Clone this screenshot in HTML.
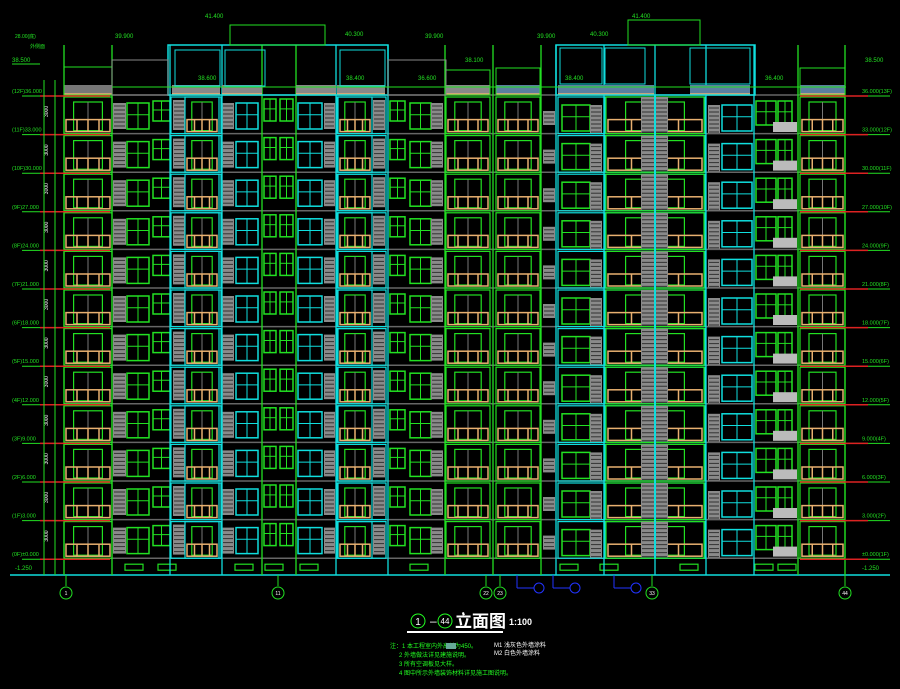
<!DOCTYPE html>
<html><head><meta charset="utf-8"><style>
html,body{margin:0;padding:0;background:#000;width:900px;height:689px;overflow:hidden}
svg{display:block}
text{font-family:"Liberation Sans","Noto Sans CJK SC",sans-serif}
</style></head><body>
<svg id="s" width="900" height="689" viewBox="0 0 900 689" xmlns="http://www.w3.org/2000/svg">
<rect width="900" height="689" fill="#000"/>
<g id="g" fill="none" stroke-width="1"></g>
<!-- title -->
<circle cx="418" cy="621" r="7" stroke="#2f2" fill="none"/><text x="418" y="625" font-size="10" fill="#fff" text-anchor="middle">1</text>
<text x="430" y="625" font-size="12" fill="#fff">–</text>
<circle cx="445" cy="621" r="7" stroke="#2f2" fill="none"/><text x="445" y="624" font-size="8" fill="#fff" text-anchor="middle">44</text>
<text x="455" y="627" font-size="17" font-weight="bold" fill="#fff">立面图</text>
<text x="509" y="625" font-size="9" font-weight="bold" fill="#fff">1:100</text>
<line x1="407" y1="632" x2="503" y2="632" stroke="#fff" stroke-width="2"/>
<g font-size="6" fill="#2f2">
<text x="390" y="648">注：1  本工程室内外高差为450。</text>
<rect x="446" y="643" width="10" height="6" fill="#6a9" stroke="none"/>
<text x="399" y="657">2  外墙做法详见建施说明。</text>
<text x="399" y="666">3  所有空调板见大样。</text>
<text x="399" y="675">4  图中所示外墙装饰材料详见施工图说明。</text>
</g>
<g font-size="6" fill="#fff">
<text x="494" y="647">M1  浅灰色外墙涂料</text>
<text x="494" y="655">M2  白色外墙涂料</text>
</g>
</svg>
<script>
var g=document.getElementById('g');var NS='http://www.w3.org/2000/svg';
function el(n,a){var e=document.createElementNS(NS,n);for(var k in a)e.setAttribute(k,a[k]);g.appendChild(e);return e}
function R(x,y,w,h,s,f,sw){return el('rect',{x:x,y:y,width:w,height:h,stroke:s||'none',fill:f||'none','stroke-width':sw||1})}
function L(x1,y1,x2,y2,s,sw){return el('line',{x1:x1,y1:y1,x2:x2,y2:y2,stroke:s,'stroke-width':sw||1})}
function T(x,y,t,c,fs,anc){var e=el('text',{x:x,y:y,fill:c||'#2f2','font-size':fs||6,'text-anchor':anc||'start'});e.textContent=t;return e}
var G='#22e022',C='#10dede',O='#e8b070',GR='#8a8a8a',LN='#666';
var top0=95,sp=38.6,N=12;
function lvl(i){return top0+sp*i}
function louvre(x,w,t,h){R(x,t,w,h,null,GR);for(var y=t+3;y<t+h;y+4)L(x+1,y,x+w-1,y,'#333'),y+=4;}
function win(x,w,t,c,h){R(x,t,w,h,c,null,1.5);L(x+w/2,t,x+w/2,t+h,c);L(x,t+h*0.45,x+w,t+h*0.45,c)}
function balc(x,w,t,c){R(x,t+2,w,sp-2,c,null,1.2);R(x+w*0.2,t+7,w*0.6,sp-10,G,null,1.2);L(x+w/2,t+7,x+w/2,t+sp-3,'#777');
 R(x+2,t+sp-14,w-4,12,O,null,1.5);for(var k=1;k<4;k++){var xx=x+2+(w-4)*k/4;L(xx,t+sp-14,xx,t+sp-2,O,1.5)}}
// floor lines
for(var i=0;i<=N;i++){var y=lvl(i);L(64,y,845,y,LN,1.5)}
for(var i=0;i<N;i++){var t=lvl(i);
 balc(64,48,t,G);
 louvre(113,13,t+8,26);win(127,22,t+8,G,26);win(153,17,t+6,G,20);
 R(171,t+2,50,sp-2,C,null,1.2);louvre(173,12,t+5,30);balc(185,34,t,C);
 louvre(222,12,t+8,26);win(236,22,t+8,C,26);
 win(264,12,t+4,G,22);win(280,13,t+4,G,22);
 win(298,24,t+8,C,26);louvre(324,11,t+8,26);
 R(337,t+2,49,sp-2,C,null,1.2);balc(338,34,t,C);louvre(373,12,t+5,30);
 win(390,15,t+6,G,20);win(410,21,t+8,G,26);louvre(431,12,t+8,26);
 balc(446,44,t,G);balc(496,44,t,G);
 louvre(543,12,t+16,14);
 R(558,t+2,46,sp-2,C,null,1.2);win(562,28,t+10,G,26);louvre(590,12,t+10,28);
 R(605,t+2,100,sp-2,C,null,1.2);balc(606,98,t,G);louvre(641,27,t+2,sp-3);L(655,t,655,t+sp,C,2);
 louvre(708,12,t+10,28);win(722,30,t+10,C,26);
 win(756,20,t+6,G,24);win(778,14,t+6,G,24);R(773,t+27,24,10,null,'#bbb');
 balc(800,45,t,G);
}
// base
var b=lvl(N);R(64,b,781,17,null,null);L(10,575,890,575,C,1.5);
[[125,12],[158,12],[235,12],[265,12],[300,12],[410,12],[560,12],[600,12],[680,12],[755,12],[778,12]].forEach(function(a){R(a[0],b+6,a[1]+6,6,G,null,1.2)});
// long verticals
[[64,G],[112,G],[170,C],[222,C],[262,G],[296,G],[336,C],[388,C],[445,G],[493,G],[541,G],[556,C],[604,C],[655,C],[706,C],[754,C],[798,G],[845,G]].forEach(function(a){L(a[0],45,a[0],575,a[1],1.3)});
// roof
[[64,48,'#777'],[172,48,'#888'],[222,40,'#888'],[296,40,'#888'],[337,48,'#888'],[446,44,'#888'],[496,44,'#5a7fa0'],[558,46,'#5a7fa0'],[604,50,'#5a7fa0'],[690,60,'#5a7fa0'],[800,45,'#5a7fa0']].forEach(function(a){R(a[0],85,a[1],9,null,a[2]);L(a[0],94,a[0]+a[1],94,O,1.5)});
R(64,67,48,28,G);R(446,70,44,25,G);R(496,68,44,27,G);R(800,68,45,27,G);
R(168,45,220,50,C,null,1.5);R(556,45,199,50,C,null,1.5);
R(230,25,95,20,G);R(628,20,72,25,G);R(112,60,56,35,'#888');R(388,60,58,35,'#888');
L(112,87,846,87,G,1);
[[175,50,45],[225,50,40],[340,50,45],[560,48,42],[690,48,60],[605,48,40]].forEach(function(a){R(a[0],a[1],a[2],36,C)});
// left labels
var ll=['36.000','33.000','30.000','27.000','24.000','21.000','18.000','15.000','12.000','9.000','6.000','3.000','±0.000'];
for(var i=0;i<=N;i++){var y=lvl(i);L(22,y+1,64,y+1,G);L(40,y+1,110,y+1,'#d22',1.5);T(12,y-2,'('+(12-i)+'F)'+ll[i],G,5.5);
 L(845,y+1,890,y+1,G);L(800,y+1,868,y+1,'#d22',1.5);T(862,y-2,ll[i]+'('+(13-i)+'F)',G,5.5);
 if(i<N){T(48,y+22,'3000','#fff',5).setAttribute('transform','rotate(-90 48 '+(y+22)+')');}}
L(55,80,55,575,G);L(44,80,44,575,G);
T(12,62,'38.500',G,6);L(12,64,40,64,G);T(15,38,'28.00(底)',G,5);T(30,48,'外侧面',G,5);
T(865,62,'38.500',G,6);T(15,570,'-1.250',G,6);T(862,570,'-1.250',G,6);
T(205,18,'41.400',G,6);T(632,18,'41.400',G,6);T(345,36,'40.300',G,6);T(590,36,'40.300',G,6);
T(115,38,'39.900',G,6);T(425,38,'39.900',G,6);T(537,38,'39.900',G,6);
T(198,80,'38.600',G,6);T(346,80,'38.400',G,6);T(418,80,'36.600',G,6);T(565,80,'38.400',G,6);T(765,80,'36.400',G,6);
T(465,62,'38.100',G,6);
// axes
[[66,'1'],[278,'11'],[486,'22'],[500,'23'],[652,'33'],[845,'44']].forEach(function(a){L(a[0],575,a[0],586,G);el('circle',{cx:a[0],cy:593,r:6,stroke:G,fill:'none'});T(a[0],595,a[1],'#fff',5,'middle')});
[[539,'B'],[575,'B'],[636,'B']].forEach(function(a){el('circle',{cx:a[0],cy:588,r:5,stroke:'#23f',fill:'none'});L(a[0]-22,588,a[0]-5,588,'#23f');L(a[0]-22,575,a[0]-22,588,'#23f')});
</script>
</body></html>
